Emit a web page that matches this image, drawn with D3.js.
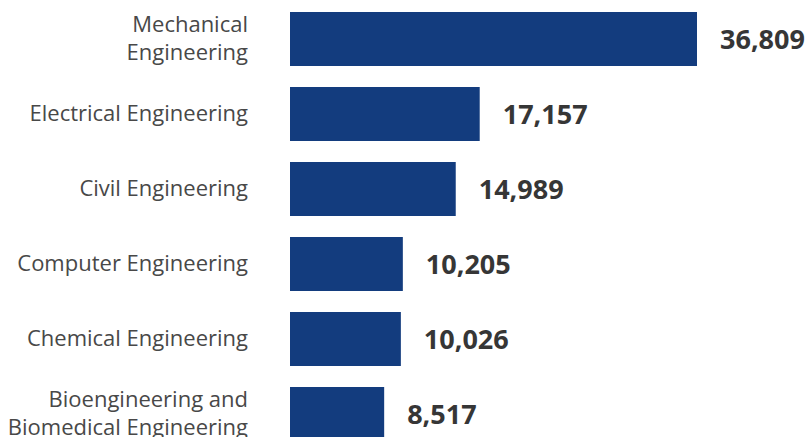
<!DOCTYPE html>
<html><head><meta charset="utf-8">
<script src="https://cdn.jsdelivr.net/npm/d3@7"></script>
<style>body{margin:0;background:#fff}svg{display:block}</style>
</head><body>
<script>
const categories = [
  ["Mechanical", "Engineering"],
  ["Electrical Engineering"],
  ["Civil Engineering"],
  ["Computer Engineering"],
  ["Chemical Engineering"],
  ["Bioengineering and", "Biomedical Engineering"]
];
const values = [36809, 17157, 14989, 10205, 10026, 8517];

const W = 809, H = 437;
const svg = d3.select("body").append("svg").attr("width", W).attr("height", H);
const x = d3.scaleLinear().domain([0, 36809]).range([290, 697]);
const y = d3.scaleBand().domain(d3.range(values.length)).range([0, 450]).paddingInner(0.28).paddingOuter(0.14);

const g = svg.append("g");
g.selectAll("rect").data(values).join("rect")
  .attr("x", x(0)).attr("y", (d, i) => y(i) + 12 - y(0))
  .attr("width", d => x(d) - x(0)).attr("height", y.bandwidth())
  .attr("fill", "#133c7e");

g.selectAll("text.val").data(values).join("text").attr("class", "val")
  .attr("x", d => x(d) + 23).attr("y", (d, i) => y(i) + 12 - y(0) + y.bandwidth() / 2)
  .attr("dy", "0.36em")
  .attr("font-family", "'Open Sans', sans-serif").attr("font-weight", 700)
  .attr("font-size", 27).attr("fill", "#363636")
  .text(d => d3.format(",")(d));

const lh = 28;
categories.forEach((lines, i) => {
  const cy = y(i) + 12 - y(0) + y.bandwidth() / 2;
  const t = g.append("text").attr("text-anchor", "end")
    .attr("font-family", "'Open Sans', sans-serif").attr("font-size", 22).attr("fill", "#484848");
  lines.forEach((l, k) => {
    t.append("tspan").attr("x", 248)
      .attr("y", cy + (k - (lines.length - 1) / 2) * lh)
      .attr("dy", "0.3em").text(l);
  });
});
</script>
</body></html>
